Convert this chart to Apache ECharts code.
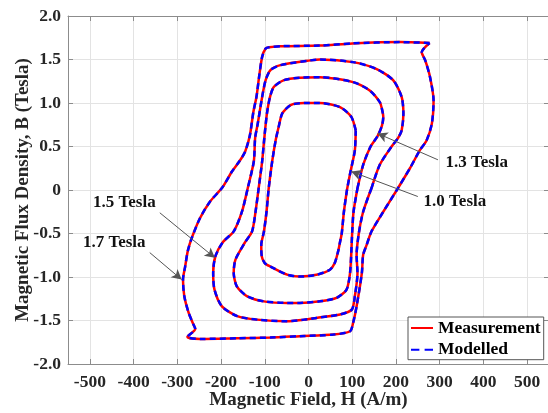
<!DOCTYPE html>
<html>
<head>
<meta charset="utf-8">
<script src="https://cdn.jsdelivr.net/npm/echarts@6/dist/echarts.min.js"></script>
<style>
  html, body { margin: 0; padding: 0; background: #fff; }
  #chart { width: 548px; height: 413px; }
</style>
</head>
<body>
<div id="chart"></div>
<script>
// Hysteresis loops, [H (A/m), B (T)] pairs traced around each closed loop
const loop10 = [
  [108, 0.685], [98, 0.84], [72, 0.953], [26, 1.0], [-10, 1.0], [-41, 0.976], [-60, 0.88],
  [-68, 0.73], [-75, 0.574], [-83, 0.33], [-91, 0.02], [-96, -0.25], [-102, -0.48],
  [-108, -0.63], [-107, -0.76], [-100, -0.84], [-87, -0.88], [-49, -0.973], [-20, -0.995],
  [18, -0.975], [49, -0.916], [60, -0.84], [68, -0.7], [72, -0.6], [76, -0.5], [81, -0.25],
  [88, 0.0], [96, 0.21], [106, 0.456], [108, 0.685]
];
const loop13 = [
  [112, 0.02], [125, 0.29], [142, 0.5], [158, 0.62], [168, 0.74], [171, 0.84], [168, 0.93],
  [163, 1.01], [140, 1.144], [102, 1.24], [26, 1.297], [-20, 1.29], [-56, 1.263], [-79, 1.186],
  [-88, 1.07], [-95, 0.88], [-101, 0.6], [-106, 0.33], [-114, 0.02], [-121, -0.246],
  [-129, -0.476], [-145, -0.6], [-167, -0.8], [-171, -0.954], [-164, -1.107], [-140, -1.222],
  [-102, -1.28], [-49, -1.298], [-20, -1.298], [26, -1.28], [64, -1.24], [87, -1.145],
  [95, -0.954], [98, -0.7], [100, -0.48], [103, -0.25], [112, 0.02]
];
const loop15 = [
  [144, 0.02], [163, 0.29], [190, 0.5], [205, 0.6], [213, 0.685], [217, 0.876], [213, 1.07],
  [194, 1.26], [156, 1.39], [102, 1.47], [26, 1.5], [5, 1.49], [-64, 1.435], [-87, 1.378],
  [-98, 1.263], [-106, 1.07], [-116, 0.765], [-122, 0.6], [-125, 0.33], [-139, 0.02],
  [-152, -0.246], [-171, -0.476], [-196, -0.6], [-213, -0.763], [-218, -0.954], [-215, -1.145],
  [-198, -1.337], [-163, -1.45], [-118, -1.49], [-49, -1.509], [-10, -1.49], [18, -1.47],
  [72, -1.43], [99, -1.375], [106, -1.222], [112, -0.954], [110, -0.75], [115, -0.5],
  [125, -0.25], [144, 0.02]
];
const loop17 = [
  [277, 1.69], [209, 1.70], [100, 1.685], [26, 1.66], [-64, 1.653], [-90, 1.64], [-98, 1.626],
  [-106, 1.53], [-113, 1.3], [-119, 1.07], [-126, 0.9], [-134, 0.63], [-145, 0.44],
  [-158, 0.33], [-175, 0.213], [-198, 0.022], [-225, -0.131], [-248, -0.322], [-267, -0.552],
  [-276, -0.7], [-282, -0.878], [-287, -1.03], [-284, -1.222], [-274, -1.413], [-263, -1.547],
  [-259, -1.597], [-277, -1.689], [-248, -1.712], [-163, -1.704], [-87, -1.696], [-20, -1.68],
  [57, -1.662], [95, -1.624], [102, -1.528], [110, -1.337], [122, -0.954], [125, -0.745],
  [133, -0.63], [144, -0.477], [171, -0.25], [202, 0.0], [232, 0.25], [255, 0.46], [270, 0.57],
  [282, 0.76], [286, 1.03], [278, 1.297], [267, 1.489], [259, 1.584], [277, 1.69]
];

// The model output follows the measured loops
const modelled10 = loop10;
const modelled13 = loop13;
const modelled15 = loop15;
const modelled17 = loop17;

const xTicks = [-500, -400, -300, -200, -100, 0, 100, 200, 300, 400, 500];
const yTicks = [-2.0, -1.5, -1.0, -0.5, 0, 0.5, 1.0, 1.5, 2.0];

// Loop labels: text anchor, arrow start, arrow head (data units)
const loopNames = ['1.3 Tesla', '1.0 Tesla', '1.5 Tesla', '1.7 Tesla'];
const labelAt = [[312, 0.312], [262, -0.132], [-494, -0.141], [-517, -0.606]];
const arrowFrom = [[296, 0.347], [250, -0.075], [-340, -0.262], [-363, -0.72]];
const arrowTo = [[158, 0.65], [98, 0.212], [-214, -0.78], [-290, -1.03]];

const serif = "'Liberation Serif', 'Times New Roman', serif";

const chart = echarts.init(document.getElementById('chart'), null, { renderer: 'canvas' });

function measured(data) {
  return {
    name: 'Measurement', type: 'line', data: data, showSymbol: false, symbol: 'none',
    smooth: 0.25, animation: false,
    lineStyle: { color: '#ff0000', width: 2.5 }, itemStyle: { color: '#ff0000' }, z: 2
  };
}
function model(data) {
  return {
    name: 'Modelled', type: 'line', data: data, showSymbol: false, symbol: 'none',
    smooth: 0.25, animation: false,
    lineStyle: { color: '#0000ff', width: 2.5, type: [6, 4] }, itemStyle: { color: '#0000ff' }, z: 3
  };
}

const axisLineStyle = { color: '#8c8c8c', width: 1 };
const tickStyle = { show: true, inside: true, length: 5, lineStyle: { color: '#8c8c8c' } };
const tickFont = { fontFamily: serif, fontWeight: 'bold', fontSize: 17.5, color: '#262626' };

const option = {
  backgroundColor: '#ffffff',
  animation: false,
  grid: { left: 68, top: 16, width: 481, height: 348, containLabel: false, outerBoundsMode: 'none' },
  legend: {
    data: [
      { name: 'Measurement', icon: 'path://M0,0H22V2H0Z', itemStyle: { color: '#ff0000' } },
      { name: 'Modelled', icon: 'path://M0,0H8V2H0ZM13,0H21V2H13Z', itemStyle: { color: '#0000ff' } }
    ],
    orient: 'vertical', left: 408, top: 317,
    itemWidth: 22, itemHeight: 2.5, itemGap: 3.7,
    padding: [2, 3, 1, 3],
    borderColor: '#555', borderWidth: 1, backgroundColor: '#ffffff',
    textStyle: { fontFamily: serif, fontWeight: 'bold', fontSize: 17.5, color: '#000' }
  },
  xAxis: [{
    type: 'value', min: -550, max: 550, position: 'bottom',
    name: 'Magnetic Field, H (A/m)', nameLocation: 'middle', nameGap: 27, nameMoveOverlap: false,
    nameTextStyle: { fontFamily: serif, fontWeight: 'bold', fontSize: 19, color: '#262626' },
    axisLine: { show: true, onZero: false, lineStyle: axisLineStyle },
    axisTick: Object.assign({ customValues: xTicks }, tickStyle),
    axisLabel: Object.assign({ customValues: xTicks, margin: 9 }, tickFont),
    splitLine: { show: true, lineStyle: { color: '#e3e3e3', width: 1 } }
  }, {
    type: 'value', min: -550, max: 550, position: 'top',
    axisLine: { show: true, onZero: false, lineStyle: axisLineStyle },
    axisTick: Object.assign({ customValues: xTicks }, tickStyle),
    axisLabel: { show: false }, splitLine: { show: false }
  }],
  yAxis: [{
    type: 'value', min: -2, max: 2, interval: 0.5, position: 'left',
    name: 'Magnetic Flux Density, B (Tesla)', nameLocation: 'middle', nameGap: 35, nameRotate: 90,
    nameMoveOverlap: false,
    nameTextStyle: { fontFamily: serif, fontWeight: 'bold', fontSize: 19, color: '#262626' },
    axisLine: { show: true, onZero: false, lineStyle: axisLineStyle },
    axisTick: Object.assign({ customValues: yTicks }, tickStyle),
    axisLabel: Object.assign({
      customValues: yTicks, margin: 7,
      formatter: v => (Math.abs(v) < 1e-9 ? '0' : v.toFixed(1))
    }, tickFont),
    splitLine: { show: true, lineStyle: { color: '#e3e3e3', width: 1 } }
  }, {
    type: 'value', min: -2, max: 2, interval: 0.5, position: 'right',
    axisLine: { show: true, onZero: false, lineStyle: axisLineStyle },
    axisTick: Object.assign({ customValues: yTicks }, tickStyle),
    axisLabel: { show: false }, splitLine: { show: false }
  }],
  series: [
    measured(loop17), measured(loop15), measured(loop13), measured(loop10),
    model(modelled17), model(modelled15), model(modelled13), model(modelled10),
    {
      name: 'annotations', type: 'line', data: [], silent: true, z: 5,
      markLine: {
        silent: true, animation: false,
        symbol: ['none', 'arrow'], symbolSize: [8, 10],
        lineStyle: { color: '#555', width: 1, type: 'solid' },
        label: { show: false },
        data: arrowFrom.map((p, i) => [{ coord: p }, { coord: arrowTo[i] }])
      },
      markPoint: {
        silent: true, animation: false,
        symbol: 'circle', symbolSize: 1,
        itemStyle: { color: 'rgba(0,0,0,0)' },
        label: {
          show: true, position: 'right', distance: 0,
          fontFamily: serif, fontWeight: 'bold', fontSize: 17, color: '#111'
        },
        data: labelAt.map((p, i) => ({ coord: p, label: { formatter: loopNames[i] } }))
      }
    }
  ]
};

chart.setOption(option);
</script>
</body>
</html>
